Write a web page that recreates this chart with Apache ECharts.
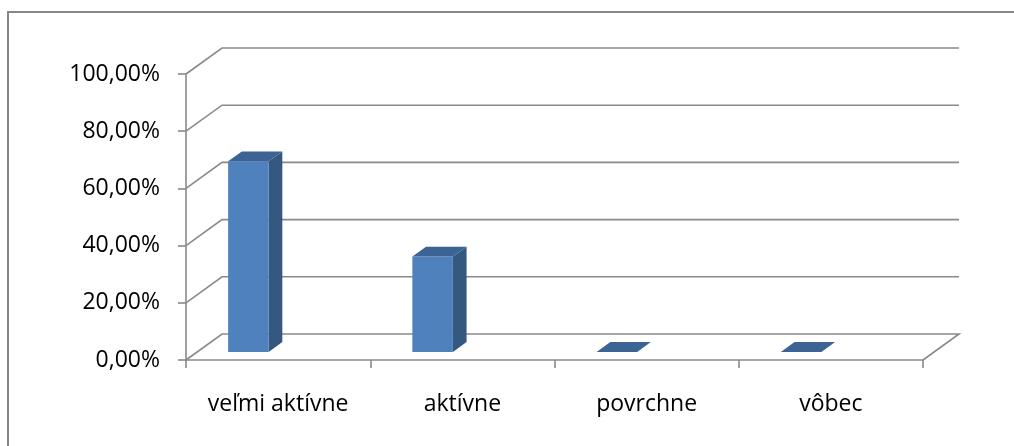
<!DOCTYPE html>
<html>
<head>
<meta charset="utf-8">
<script src="https://cdn.jsdelivr.net/npm/echarts@6/dist/echarts.min.js"></script>
<style>
  html, body { margin: 0; padding: 0; background: #fff; }
  #chart { width: 1014px; height: 446px; }
</style>
</head>
<body>
<div id="chart"></div>
<script>
// Chart data
const categories = ['veľmi aktívne', 'aktívne', 'povrchne', 'vôbec'];
const shares = [66.67, 33.33, 0, 0];          // percent of respondents
const gridValues = [0, 20, 40, 60, 80, 100];  // value-axis ticks

// Pseudo-3D depth of the floor / back wall (pixels)
const DEPTH_X = 36;
const DEPTH_Y = -26;
// Bar placement within the depth and within a category band
const BAR_DEPTH_START = 0.31;
const BAR_DEPTH = 0.38;
const BAR_OFFSET = 0.168;
const BAR_WIDTH = 0.22;

const GRID_COLOR = '#8a8a8a';
const FONT = '"Open Sans", "Noto Sans", sans-serif';

const chart = echarts.init(document.getElementById('chart'), null, { renderer: 'canvas' });

function fmtPct(v) {
  return v.toFixed(2).replace('.', ',') + '%';
}

// Back-wall gridlines and the floor outline
function renderWall(params, api) {
  const v = api.value(0);
  const cs = params.coordSys;
  const x0 = cs.x, x1 = cs.x + cs.width;
  const y = api.coord([0, v])[1];
  const pts = [
    [x0, y],
    [x0 + DEPTH_X, y + DEPTH_Y],
    [x1 + DEPTH_X, y + DEPTH_Y]
  ];
  if (v === 0) pts.push([x1, y]);
  return {
    type: 'polyline',
    shape: { points: pts },
    style: { stroke: GRID_COLOR, lineWidth: 1.6, fill: null }
  };
}

// 3D column: front face, right side, top
function renderBar(params, api) {
  const i = api.value(0);
  const v = api.value(1);
  const band = api.size([1, 0])[0];
  const center = api.coord([i, 0]);
  const yTopRaw = api.coord([i, v])[1];
  const fx = DEPTH_X * BAR_DEPTH_START, fy = DEPTH_Y * BAR_DEPTH_START;
  const dx = DEPTH_X * BAR_DEPTH, dy = DEPTH_Y * BAR_DEPTH;
  const left = center[0] - band / 2 + BAR_OFFSET * band + fx;
  const right = left + BAR_WIDTH * band;
  const bottom = center[1] + fy;
  const top = yTopRaw + fy;
  const children = [];
  if (bottom - top > 0.5) {
    children.push({
      type: 'polygon',
      shape: { points: [[right, bottom], [right + dx, bottom + dy], [right + dx, top + dy], [right, top]] },
      style: { fill: '#34587f' }
    });
    children.push({
      type: 'rect',
      shape: { x: left, y: top, width: right - left, height: bottom - top },
      style: { fill: '#4f81bd' }
    });
  }
  children.push({
    type: 'polygon',
    shape: { points: [[left, top], [right, top], [right + dx, top + dy], [left + dx, top + dy]] },
    style: { fill: '#3b6393' }
  });
  return { type: 'group', children: children };
}

chart.setOption({
  animation: false,
  backgroundColor: '#ffffff',
  grid: { left: 186, right: 91, top: 74, bottom: 86 },
  graphic: [{
    type: 'rect',
    shape: { x: 8, y: 12, width: 1100, height: 500 },
    style: { fill: null, stroke: '#868686', lineWidth: 2 },
    silent: true
  }],
  xAxis: {
    type: 'category',
    data: categories,
    boundaryGap: true,
    axisLine: { lineStyle: { color: GRID_COLOR, width: 1.6 } },
    axisTick: { show: true, length: 8, inside: false, lineStyle: { color: GRID_COLOR, width: 1.6 } },
    axisLabel: { color: '#000', fontFamily: FONT, fontSize: 23, margin: 33 },
    splitLine: { show: false }
  },
  yAxis: {
    type: 'value',
    min: 0,
    max: 100,
    interval: 20,
    axisLine: { show: true, lineStyle: { color: GRID_COLOR, width: 1.6 } },
    axisTick: { show: true, length: 8, lineStyle: { color: GRID_COLOR, width: 1.6 } },
    axisLabel: { color: '#000', fontFamily: FONT, fontSize: 23, margin: 26, formatter: fmtPct },
    splitLine: { show: false }
  },
  series: [
    {
      type: 'custom',
      renderItem: renderWall,
      data: gridValues.map(v => [v]),
      encode: { y: 0 },
      z: 1,
      silent: true
    },
    {
      type: 'custom',
      renderItem: renderBar,
      data: shares.map((v, i) => [i, v]),
      encode: { x: 0, y: 1 },
      z: 2,
      silent: true
    }
  ]
});
</script>
</body>
</html>
